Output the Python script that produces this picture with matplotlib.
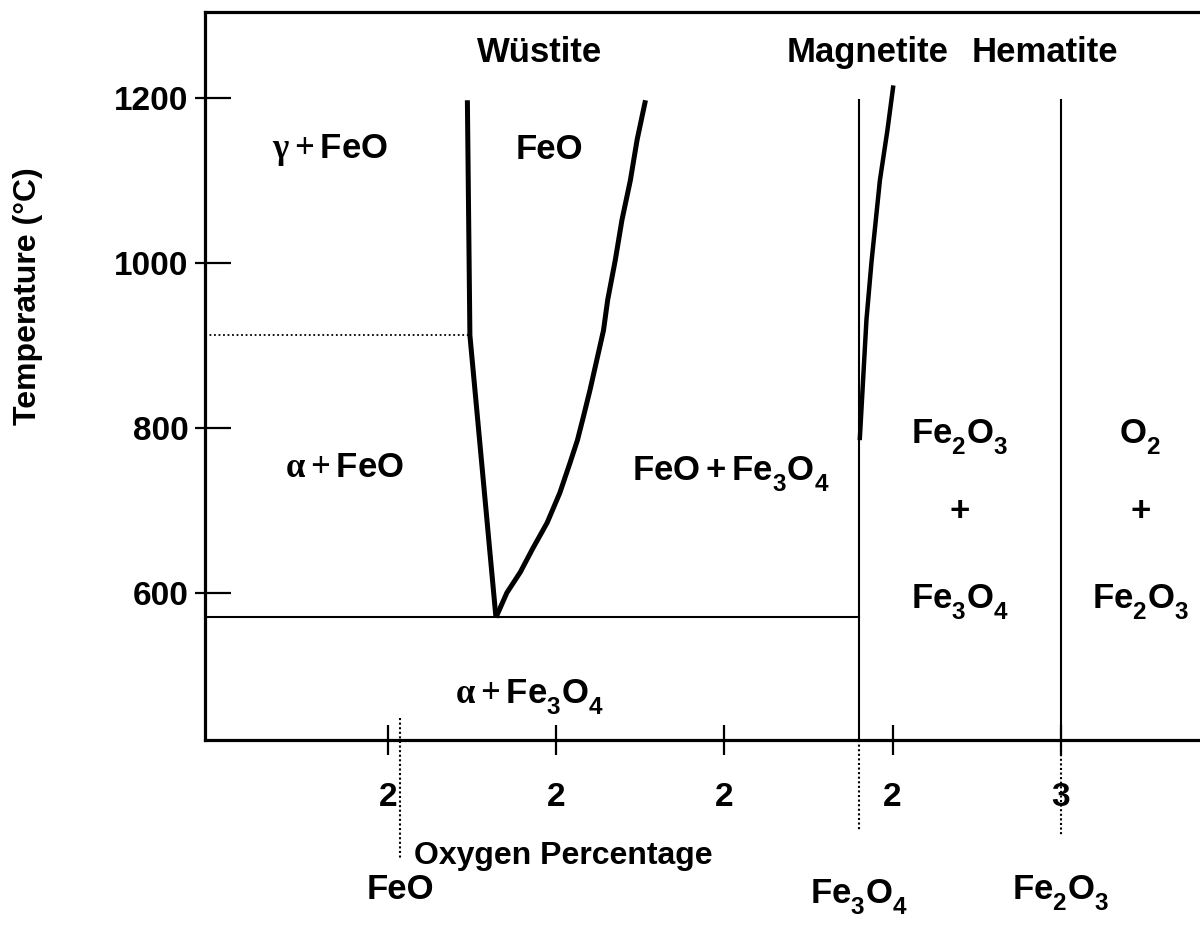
import numpy as np
import matplotlib
matplotlib.use("Agg")
import matplotlib.pyplot as plt
from matplotlib.ticker import FixedLocator

plt.rcParams['font.family'] = ['Liberation Sans', 'DejaVu Sans']
plt.rcParams['font.weight'] = 'bold'
plt.rcParams['mathtext.fontset'] = 'custom'
plt.rcParams['mathtext.rm'] = 'Liberation Serif'
plt.rcParams['mathtext.it'] = 'Liberation Serif'
plt.rcParams['mathtext.bf'] = 'Liberation Sans:bold'

# push subscripts lower, like the original slide
try:
    import matplotlib._mathtext as _mt
    _mt.FontConstantsBase.sub1 = 0.6
except Exception:
    pass

# axes ticks
x_ticks = [22, 24, 26, 28, 30]
x_tick_labels = ['2', '2', '2', '2', '3']
y_ticks = [600, 800, 1000, 1200]

# wustite left boundary (wt% O, degC)
wus_left_x = [22.94, 22.97, 23.28]
wus_left_t = [1197, 912, 570]

# wustite right boundary
wus_right_x = [23.28, 23.41, 23.57, 23.72, 23.89, 24.04, 24.16, 24.25, 24.32,
               24.40, 24.48, 24.56, 24.61, 24.70, 24.78, 24.88, 24.96, 25.06]
wus_right_t = [570, 600, 625, 654, 685, 721, 757, 785, 813,
               846, 882, 918, 955, 1003, 1052, 1100, 1149, 1197]

# magnetite boundary
mag_curve_x = [27.61, 27.65, 27.69, 27.75, 27.85, 27.94, 28.01]
mag_curve_t = [785, 858, 931, 1001, 1100, 1161, 1215]

eutectoid_t = 570
curie_t = 912
top_t = 1197

# compositions
feo_x = 22.14
fe3o4_x = 27.60
fe2o3_x = 30.00

xmin, xmax = 19.817, 31.66
ymin, ymax = 421.5, 1304

fig = plt.figure(figsize=(12, 9.47), dpi=100)
ax = fig.add_axes([205/1200, 1 - 740/947, 995/1200, 728/947])
ax.set_xlim(xmin, xmax)
ax.set_ylim(ymin, ymax)

for s in ['left', 'top', 'bottom']:
    ax.spines[s].set_linewidth(2.3)
ax.spines['right'].set_visible(False)

ax.set_xticks(x_ticks)
ax.set_xticklabels(x_tick_labels)
ax.set_yticks(y_ticks)
ax.tick_params(axis='x', direction='inout', length=22, width=1.6, labelsize=24, pad=19)
ax.tick_params(axis='y', direction='in', length=19, width=1.6, labelsize=24, pad=12)
# short outside stubs on the y axis
ax.yaxis.remove_overlapping_locs = False
ax.yaxis.set_minor_locator(FixedLocator(y_ticks))
ax.tick_params(axis='y', which='minor', direction='out', length=7, width=1.6)

# boundaries
ax.plot(wus_left_x, wus_left_t, color='black', lw=3.6, solid_capstyle='butt')
ax.plot(wus_right_x, wus_right_t, color='black', lw=3.6, solid_capstyle='butt')
ax.plot(mag_curve_x, mag_curve_t, color='black', lw=3.2, solid_capstyle='butt')
ax.plot([xmin, fe3o4_x], [eutectoid_t, eutectoid_t], color='black', lw=1.5)
ax.plot([xmin, wus_left_x[1]], [curie_t, curie_t], color='black', lw=1.3, ls=(0, (1, 1.5)))
ax.plot([fe3o4_x, fe3o4_x], [ymin, top_t], color='black', lw=1.5)
ax.plot([fe2o3_x, fe2o3_x], [ymin, top_t], color='black', lw=1.5)

# dotted composition markers below the axis
ax.plot([feo_x, feo_x], [448, 279], color='black', lw=1.5, ls=(0, (1, 1.2)), clip_on=False)
ax.plot([fe3o4_x, fe3o4_x], [ymin, 312], color='black', lw=1.5, ls=(0, (1, 1.2)), clip_on=False)
ax.plot([fe2o3_x, fe2o3_x], [415, 306], color='black', lw=1.5, ls=(0, (1, 1.2)), clip_on=False)

fs = 25
kw = dict(ha='center', va='center', fontsize=fs, fontweight='bold')
ax.text(23.80, 1255, 'Wüstite', **kw)
ax.text(27.70, 1255, 'Magnetite', **kw)
ax.text(29.82, 1255, 'Hematite', **kw)
ax.text(21.30, 1137, r'$\gamma + \mathbf{FeO}$', **kw)
ax.text(23.92, 1137, 'FeO', **kw)
ax.text(21.48, 752, r'$\alpha + \mathbf{FeO}$', **kw)
ax.text(26.07, 743, r'$\mathbf{FeO + Fe_3O_4}$', **kw)
ax.text(28.80, 788, r'$\mathbf{Fe_2O_3}$', **kw)
ax.text(28.80, 698, '+', **kw)
ax.text(28.80, 588, r'$\mathbf{Fe_3O_4}$', **kw)
ax.text(30.95, 788, r'$\mathbf{O_2}$', **kw)
ax.text(30.95, 698, '+', **kw)
ax.text(30.95, 588, r'$\mathbf{Fe_2O_3}$', **kw)
ax.text(23.68, 473, r'$\alpha + \mathbf{Fe_3O_4}$', **kw)

kw_out = dict(kw, clip_on=False)
ax.text(feo_x, 240, 'FeO', **kw_out)
ax.text(fe3o4_x, 231, r'$\mathbf{Fe_3O_4}$', **kw_out)
ax.text(fe2o3_x, 236, r'$\mathbf{Fe_2O_3}$', **kw_out)

fig.text(563/1200, 1 - 856/947, 'Oxygen Percentage', ha='center', va='center',
         fontsize=23, fontweight='bold')
fig.text(28/1200, 1 - 296/947, 'Temperature (°C)', ha='center', va='center',
         rotation=90, fontsize=23, fontweight='bold')

fig.savefig('out.png', dpi=100)
